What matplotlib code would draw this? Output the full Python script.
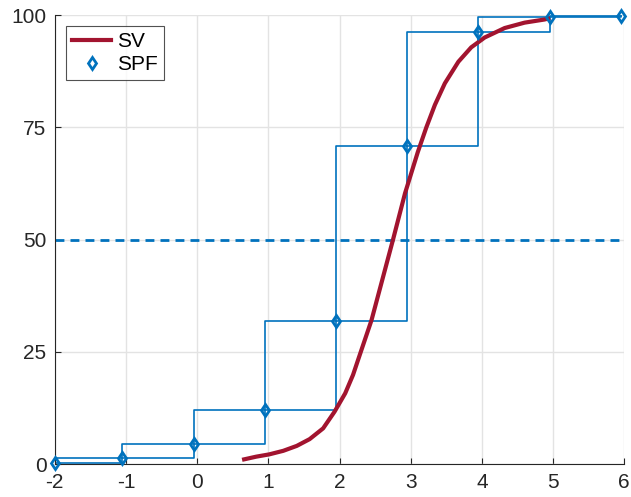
import matplotlib
matplotlib.use("Agg")
import matplotlib.pyplot as plt

# Distribución acumulada SPF (puntos discretos) frente a la curva SV.
spf_x = [-2.0, -1.05, -0.05, 0.95, 1.95, 2.95, 3.95, 4.95, 5.95]
spf_y = [0.2, 1.5, 4.5, 12.0, 31.8, 70.9, 96.2, 99.5, 99.8]

sv_x = [0.66, 0.83, 1.01, 1.21, 1.40, 1.58, 1.77, 1.93, 2.08, 2.19,
        2.26, 2.45, 2.60, 2.75, 2.92, 3.10, 3.22, 3.34, 3.48, 3.67,
        3.85, 4.04, 4.32, 4.60, 4.88, 4.93]
sv_y = [1.1, 1.7, 2.2, 3.0, 4.1, 5.6, 8.0, 11.7, 15.8, 19.9,
        23.2, 32.1, 41.0, 49.9, 60.3, 69.5, 75.0, 80.0, 84.8, 89.6,
        92.8, 95.0, 97.1, 98.3, 99.0, 99.2]

nivel = 50
x_ticks = [-2, -1, 0, 1, 2, 3, 4, 5, 6]
y_ticks = [0, 25, 50, 75, 100]

azul = "#0072BD"
rojo = "#A2142F"

plt.rcParams['font.family'] = ['Liberation Sans', 'DejaVu Sans']
plt.rcParams['axes.unicode_minus'] = False

fig = plt.figure(figsize=(6.31, 4.97), dpi=100)
ax = fig.add_axes([0.0868, 0.0658, 0.9025, 0.904])

# Escalones superior e inferior de la SPF
ax.plot(spf_x, spf_y, drawstyle="steps-post", color=azul, lw=1.2, zorder=2)
ax.plot(spf_x, spf_y, drawstyle="steps-pre", color=azul, lw=1.2, zorder=2)
ax.axhline(nivel, color=azul, lw=2, ls=(0, (3.2, 2.2)), zorder=2)

ax.plot(sv_x, sv_y, color=rojo, lw=3, label="SV", zorder=3,
        solid_joinstyle="round")
ax.plot(spf_x, spf_y, ls="none", marker="d", ms=6, mfc="none", mec=azul,
        mew=2, label="SPF", zorder=4, clip_on=False)

ax.set_xlim(-2, 6)
ax.set_ylim(0, 100)
ax.set_xticks(x_ticks)
ax.set_yticks(y_ticks)
ax.grid(True, color="#e3e3e3", lw=1)
ax.set_axisbelow(True)
for s in ["top", "right"]:
    ax.spines[s].set_visible(False)
for s in ["left", "bottom"]:
    ax.spines[s].set_color("#262626")
ax.tick_params(direction="in", length=4, labelsize=15, colors="#262626",
               pad=6)

leg = ax.legend(loc="upper left", bbox_to_anchor=(0.019, 0.976), fontsize=15,
                frameon=True, fancybox=False, handlelength=1.9,
                handletextpad=0.25, borderpad=0.3, labelspacing=0.2,
                borderaxespad=0)
leg.get_frame().set_edgecolor("#262626")
leg.get_frame().set_linewidth(0.8)

fig.savefig("out.png", dpi=100)
